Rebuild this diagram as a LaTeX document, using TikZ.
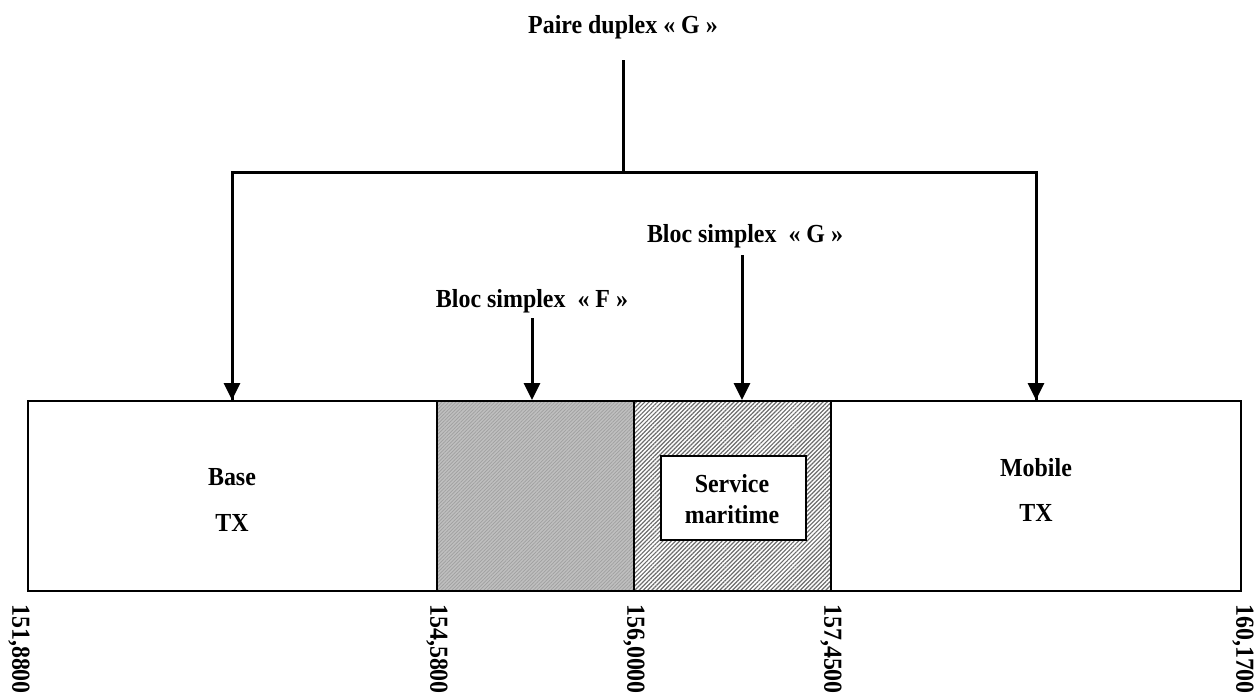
\documentclass[tikz,border=0pt]{standalone}
\usepackage{fontspec}
\setmainfont{Liberation Serif}[FakeStretch=0.92]
\usetikzlibrary{arrows.meta,patterns.meta}
\tikzset{
  lbl/.style={font=\bfseries\fontsize{26}{30}\selectfont, inner sep=0pt, anchor=base},
  axl/.style={font=\bfseries\fontsize{26}{30}\selectfont, inner sep=0pt, anchor=west, rotate=-90},
  ln/.style={line width=3pt},
  arr/.style={line width=3pt, -{Triangle[length=17pt,width=16pt]}},
  box/.style={draw, line width=2.2pt},
}
\begin{document}
\begin{tikzpicture}[x=1pt,y=-1pt]
\useasboundingbox (0,0) rectangle (1258,699);
% shaded blocks
\fill[gray!50] (437,400) rectangle (634,590);
\fill[pattern={Lines[angle=45,distance=2.5pt,line width=0.7pt]}, pattern color=gray!75] (437,400) rectangle (634,590);
\fill[pattern={Lines[angle=45,distance=3pt,line width=1.2pt]}, pattern color=gray!85!black] (634,400) rectangle (831,590);
% main band
\node[box, minimum width=1213pt, minimum height=190pt, inner sep=0pt, anchor=north west] (band) at (27,400) {};
\draw[box] (437,400) -- (437,590);
\draw[box] (634,400) -- (634,590);
\draw[box] (831,400) -- (831,590);
% service maritime
\node[box, fill=white, minimum width=145pt, minimum height=84pt, inner sep=0pt, anchor=north west] (serv) at (660,455) {};
\node[lbl] (s1) at (732,492) {Service};
\node[lbl] (s2) at (732,523) {maritime};
% band labels
\node[lbl] (base) at (232,485) {Base};
\node[lbl] (btx) at (232,531) {TX};
\node[lbl] (mob) at (1036,476) {Mobile};
\node[lbl] (mtx) at (1036,521) {TX};
% titles
\node[lbl] (title) at (623,33) {Paire duplex « G »};
\node[lbl] (blocg) at (745,242) {Bloc simplex~ « G »};
\node[lbl] (blocf) at (532,307) {Bloc simplex~ « F »};
% connector coordinates
\coordinate (t0) at (623,60);
\coordinate (tj) at (623,172);
\coordinate (bl) at (232,172);
\coordinate (br) at (1036,172);
\coordinate (al) at (232,400);
\coordinate (ar) at (1036,400);
\coordinate (g0) at (742,255);
\coordinate (g1) at (742,400);
\coordinate (f0) at (532,318);
\coordinate (f1) at (532,400);
\draw[ln] (t0) -- (tj);
\draw[ln, line join=miter] (al) -- (bl) -- (br) -- (ar);
\draw[arr] (bl) -- (al);
\draw[arr] (br) -- (ar);
\draw[arr] (g0) -- (g1);
\draw[arr] (f0) -- (f1);
% axis labels
\node[axl] (a1) at (19,604) {151,8800};
\node[axl] (a2) at (437,604) {154,5800};
\node[axl] (a3) at (634,604) {156,0000};
\node[axl] (a4) at (831,604) {157,4500};
\node[axl] (a5) at (1243,604) {160,1700};
\end{tikzpicture}
\end{document}
